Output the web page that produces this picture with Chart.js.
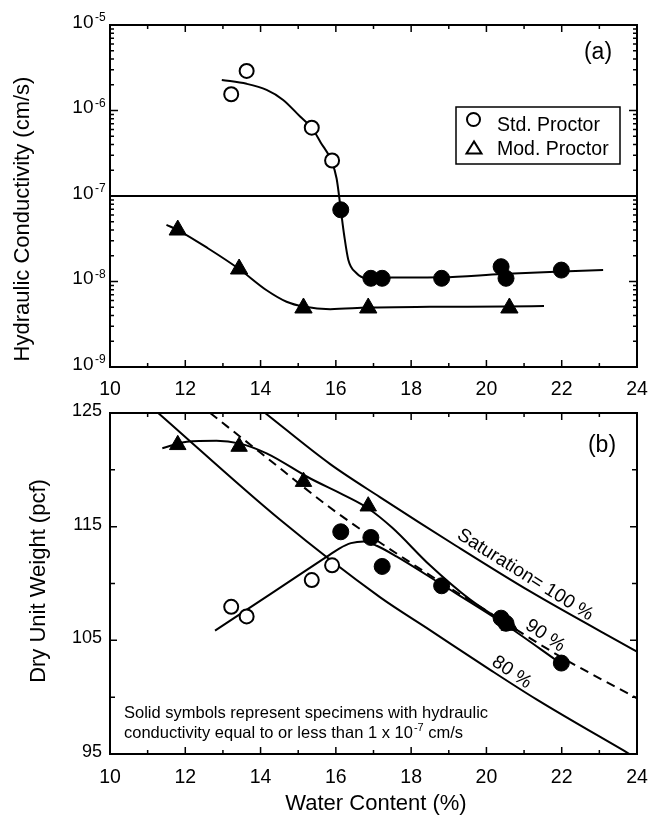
<!DOCTYPE html>
<html>
<head>
<meta charset="utf-8">
<script src="https://cdn.jsdelivr.net/npm/chart.js@4.4.1/dist/chart.umd.min.js"></script>
<style>
  html, body { margin: 0; padding: 0; background: #fff; }
  #wrap { position: relative; width: 649px; height: 816px; overflow: hidden; }
  canvas { position: absolute; left: 0; }
</style>
</head>
<body>
<div id="wrap">
  <canvas id="kChart" width="649" height="400" style="top:0"></canvas>
  <canvas id="gChart" width="649" height="416" style="top:400px"></canvas>
</div>
<script>
// ---- axis ticks ----
const xTicks = [10, 12, 14, 16, 18, 20, 22, 24];
const kExponents = [-5, -6, -7, -8, -9];
const gammaTicks = [95, 105, 115, 125];
const gammaMinorTicks = [100, 110, 120];

// hydraulic conductivity limit (cm/s)
const kLimit = 1e-7;
const limitWater = [10, 24];

// ---- Std. Proctor specimens (same specimens in (a) and (b)) ----
const stdWater = [13.22, 13.63, 15.36, 15.9, 16.13, 16.93, 17.23, 18.81, 20.39, 20.52, 21.99];
const stdK     = [1.55e-6, 2.9e-6, 6.3e-7, 2.6e-7, 6.9e-8, 1.09e-8, 1.09e-8, 1.09e-8, 1.49e-8, 1.09e-8, 1.36e-8];
const stdGamma = [107.95, 107.1, 110.3, 111.6, 114.55, 114.05, 111.5, 109.8, 106.95, 106.5, 103.0];

// ---- Mod. Proctor specimens ----
const modWater = [11.8, 13.43, 15.14, 16.86, 20.61];
const modK     = [4.0e-8, 1.4e-8, 4.9e-9, 4.9e-9, 4.9e-9];
const modGamma = [122.2, 122.05, 118.96, 116.8, 106.3];

// ---- fitted curves, panel (a) ----
const stdFitKWater = [12.97, 13.63, 14.16, 14.6, 15.05, 15.37, 15.6, 15.88, 16.02, 16.13, 16.22, 16.33, 16.55, 16.8, 17.5, 18.8, 20.4, 22.0, 23.1];
const stdFitK      = [2.28e-6, 2.05e-6, 1.74e-6, 1.33e-6, 8.5e-7, 6.2e-7, 4.2e-7, 2.6e-7, 1.6e-7, 7e-8, 3.5e-8, 1.8e-8, 1.25e-8, 1.1e-8, 1.11e-8, 1.12e-8, 1.22e-8, 1.31e-8, 1.36e-8];
const modFitKWater = [11.5, 11.8, 12.6, 13.43, 14.16, 14.69, 15.14, 15.85, 16.86, 18.5, 20.5, 21.53];
const modFitK      = [4.6e-8, 4.0e-8, 2.45e-8, 1.4e-8, 7.9e-9, 5.8e-9, 5.1e-9, 4.75e-9, 4.95e-9, 5.05e-9, 5.1e-9, 5.16e-9];

// ---- fitted curves, panel (b) ----
const stdFitGWater = [12.79, 14.3, 15.76, 16.1, 16.4, 16.75, 17.1, 17.62, 18.77, 20.45, 21.96];
const stdFitG      = [105.85, 109.15, 112.36, 113.1, 113.55, 113.7, 113.3, 112.36, 110.0, 106.5, 103.0];
const modFitGWater = [11.39, 12.04, 12.83, 13.43, 14.16, 15.31, 16.2, 16.86, 17.5, 18.5, 19.56, 20.6];
const modFitG      = [121.9, 122.48, 122.56, 122.33, 121.45, 119.26, 117.8, 116.6, 114.9, 111.6, 108.6, 106.3];

// ---- saturation lines ----
const sat100Water = [14.12, 15.85, 17.17, 19.2, 21.16, 24];
const sat100G     = [125, 120.5, 117.6, 113.3, 109.3, 104.0];
const sat90Water  = [12.66, 14, 16, 18, 20, 22, 24];
const sat90G      = [125, 121.5, 116.3, 111.8, 107.6, 103.5, 99.9];
const sat80Water  = [11.28, 14.52, 17.17, 18.5, 20.1, 21.33, 23.8];
const sat80G      = [125, 115.6, 108.8, 105.9, 102.4, 99.8, 95.0];

const FONT = '"Liberation Sans", Arial, Helvetica, sans-serif';

const pts = (xs, ys) => xs.map((x, i) => ({ x: x, y: ys[i] }));
const isSolid = c => stdK[c.dataIndex] <= kLimit;

function curve(xs, ys, extra) {
  return Object.assign({
    data: pts(xs, ys),
    showLine: true,
    pointRadius: 0,
    pointHoverRadius: 0,
    borderColor: '#000',
    borderWidth: 2,
    fill: false,
    cubicInterpolationMode: 'monotone',
    order: 2
  }, extra || {});
}

function stdPoints(ys) {
  return {
    data: pts(stdWater, ys),
    pointStyle: 'circle',
    pointRadius: c => (isSolid(c) ? 8 : 7),
    pointBackgroundColor: c => (isSolid(c) ? '#000' : '#fff'),
    pointBorderColor: '#000',
    pointBorderWidth: c => (isSolid(c) ? 1 : 2),
    order: 0
  };
}

function modPoints(ys, r) {
  return {
    data: pts(modWater, ys),
    pointStyle: 'triangle',
    pointRadius: r,
    pointBackgroundColor: '#000',
    pointBorderColor: '#000',
    pointBorderWidth: 1,
    order: 0
  };
}

// ---- drawing helpers for frame, inward ticks and text ----
function drawFrame(ctx, a) {
  ctx.strokeStyle = '#000';
  ctx.lineWidth = 2;
  ctx.strokeRect(a.left, a.top, a.right - a.left, a.bottom - a.top);
}

function drawXTickMarks(ctx, a, scale) {
  ctx.lineWidth = 1.5;
  ctx.beginPath();
  for (let v = scale.min; v <= scale.max; v += 1) {
    const len = v % 2 === 0 ? 7 : 4;
    const px = scale.getPixelForValue(v);
    ctx.moveTo(px, a.bottom); ctx.lineTo(px, a.bottom - len);
    ctx.moveTo(px, a.top); ctx.lineTo(px, a.top + len);
  }
  ctx.stroke();
}

function drawYTickMarks(ctx, a, scale, values, len) {
  ctx.lineWidth = 1.5;
  ctx.beginPath();
  values.forEach(v => {
    const py = scale.getPixelForValue(v);
    ctx.moveTo(a.left, py); ctx.lineTo(a.left + len, py);
    ctx.moveTo(a.right, py); ctx.lineTo(a.right - len, py);
  });
  ctx.stroke();
}

function drawXLabels(ctx, scale, baseline) {
  ctx.fillStyle = '#000';
  ctx.font = '19.5px ' + FONT;
  ctx.textAlign = 'center';
  ctx.textBaseline = 'alphabetic';
  xTicks.forEach(v => ctx.fillText(String(v), scale.getPixelForValue(v), baseline));
}

function drawRotated(ctx, text, x, y, angleDeg, font, baseline) {
  ctx.save();
  ctx.translate(x, y);
  ctx.rotate(angleDeg * Math.PI / 180);
  ctx.font = font;
  ctx.textAlign = 'center';
  ctx.textBaseline = baseline || 'middle';
  ctx.fillStyle = '#000';
  ctx.fillText(text, 0, 0);
  ctx.restore();
}

// ---- panel (a) decorations ----
const panelA = {
  id: 'panelA',
  afterDraw(chart) {
    const { ctx, chartArea: a, scales: { x, y } } = chart;
    ctx.save();
    drawFrame(ctx, a);
    drawXTickMarks(ctx, a, x);

    const majors = kExponents.map(e => Math.pow(10, e));
    const minors = [];
    kExponents.slice(1).forEach(e => {
      for (let m = 2; m <= 9; m++) minors.push(m * Math.pow(10, e));
    });
    drawYTickMarks(ctx, a, y, majors, 8);
    drawYTickMarks(ctx, a, y, minors, 4);

    drawXLabels(ctx, x, 395);

    // 10^n labels
    kExponents.forEach(e => {
      const py = y.getPixelForValue(Math.pow(10, e));
      ctx.font = '19px ' + FONT;
      ctx.textAlign = 'right';
      ctx.textBaseline = 'alphabetic';
      ctx.fillText('10', 93.5, py + 2.5);
      ctx.font = '12px ' + FONT;
      ctx.textAlign = 'left';
      ctx.fillText(String(e), 95, py - 4);
    });

    drawRotated(ctx, 'Hydraulic Conductivity (cm/s)', 28.5, 219, -90, '22px ' + FONT, 'alphabetic');
    drawRotated(ctx, '(a)', 598, 53, 0, '23px ' + FONT, 'middle');

    // legend
    ctx.lineWidth = 1.5;
    ctx.strokeRect(456, 107, 164, 57);
    ctx.lineWidth = 2;
    ctx.beginPath();
    ctx.arc(473.5, 119.5, 6.5, 0, Math.PI * 2);
    ctx.stroke();
    ctx.beginPath();
    ctx.moveTo(474, 141.5);
    ctx.lineTo(466.5, 153.5);
    ctx.lineTo(481.5, 153.5);
    ctx.closePath();
    ctx.stroke();
    ctx.font = '19.5px ' + FONT;
    ctx.textAlign = 'left';
    ctx.textBaseline = 'alphabetic';
    ctx.fillText('Std. Proctor', 497, 131);
    ctx.fillText('Mod. Proctor', 497, 155);
    ctx.restore();
  }
};

// ---- panel (b) decorations ----
const satLabels = [
  { text: 'Saturation= 100 %', x: 21.03, y: 110.75, angle: 32 },
  { text: '90 %', x: 21.56, y: 105.4, angle: 34 },
  { text: '80 %', x: 20.67, y: 102.18, angle: 34 }
];

const panelB = {
  id: 'panelB',
  afterDraw(chart) {
    const { ctx, chartArea: a, scales: { x, y } } = chart;
    ctx.save();
    drawFrame(ctx, a);
    drawXTickMarks(ctx, a, x);
    drawYTickMarks(ctx, a, y, gammaTicks, 7);
    drawYTickMarks(ctx, a, y, gammaMinorTicks, 5);

    drawXLabels(ctx, x, 383);

    ctx.font = '18px ' + FONT;
    ctx.textAlign = 'right';
    ctx.textBaseline = 'alphabetic';
    gammaTicks.forEach(v => ctx.fillText(String(v), 102, y.getPixelForValue(v) + 3));

    drawRotated(ctx, 'Dry Unit Weight (pcf)', 44.5, 181, -90, '22px ' + FONT, 'alphabetic');
    ctx.font = '22px ' + FONT;
    ctx.textAlign = 'center';
    ctx.fillText('Water Content (%)', 376, 410);

    drawRotated(ctx, '(b)', 602, 46, 0, '23px ' + FONT, 'middle');

    satLabels.forEach(l => {
      drawRotated(ctx, l.text, x.getPixelForValue(l.x), y.getPixelForValue(l.y), l.angle, '19px ' + FONT, 'middle');
    });

    // note
    ctx.font = '16.5px ' + FONT;
    ctx.textAlign = 'left';
    ctx.textBaseline = 'alphabetic';
    ctx.fillText('Solid symbols represent specimens with hydraulic', 124, 318);
    const part1 = 'conductivity equal to or less than 1 x 10';
    ctx.fillText(part1, 124, 338);
    let cx = 124 + ctx.measureText(part1).width + 1;
    ctx.font = '11px ' + FONT;
    ctx.fillText('-7', cx, 331);
    cx += ctx.measureText('-7').width;
    ctx.font = '16.5px ' + FONT;
    ctx.fillText(' cm/s', cx, 338);
    ctx.restore();
  }
};

const common = {
  responsive: false,
  animation: false,
  events: [],
  plugins: { legend: { display: false }, tooltip: { enabled: false } }
};

function xScale(height) {
  return {
    type: 'linear',
    min: 10,
    max: 24,
    grid: { display: false, drawTicks: false },
    border: { display: false },
    ticks: { display: false, stepSize: 2 },
    afterFit: s => { s.height = height; }
  };
}

new Chart(document.getElementById('kChart'), {
  type: 'scatter',
  data: {
    datasets: [
      stdPoints(stdK),
      modPoints(modK, 10),
      curve(stdFitKWater, stdFitK),
      curve(modFitKWater, modFitK),
      curve(limitWater, limitWater.map(() => kLimit), { cubicInterpolationMode: 'default' })
    ]
  },
  options: Object.assign({}, common, {
    layout: { padding: { top: 25, right: 12, left: 0, bottom: 0 } },
    scales: {
      x: xScale(33),
      y: {
        type: 'logarithmic',
        min: 1e-9,
        max: 1e-5,
        grid: { display: false, drawTicks: false },
        border: { display: false },
        ticks: { display: false },
        afterFit: s => { s.width = 110; }
      }
    }
  }),
  plugins: [panelA]
});

new Chart(document.getElementById('gChart'), {
  type: 'scatter',
  data: {
    datasets: [
      stdPoints(stdGamma),
      modPoints(modGamma, 9.5),
      curve(stdFitGWater, stdFitG),
      curve(modFitGWater, modFitG),
      curve(sat100Water, sat100G),
      curve(sat90Water, sat90G, { borderDash: [9, 6] }),
      curve(sat80Water, sat80G)
    ]
  },
  options: Object.assign({}, common, {
    layout: { padding: { top: 13, right: 12, left: 0, bottom: 0 } },
    scales: {
      x: xScale(62),
      y: {
        type: 'linear',
        min: 95,
        max: 125,
        grid: { display: false, drawTicks: false },
        border: { display: false },
        ticks: { display: false },
        afterFit: s => { s.width = 110; }
      }
    }
  }),
  plugins: [panelB]
});
</script>
</body>
</html>
